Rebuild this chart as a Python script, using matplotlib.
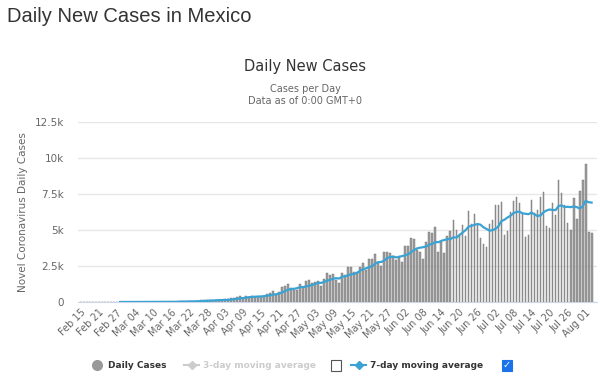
import matplotlib
matplotlib.use("Agg")
import matplotlib.pyplot as plt
from matplotlib.lines import Line2D
from matplotlib.patches import Rectangle
import numpy as np
import pandas as pd

# === Data: daily new cases, Feb 15 - Aug 03 ===
start_date = "2020-02-15"
daily_cases = [
    # Feb 15 - Feb 29
    0, 0, 0, 0, 0, 0, 0, 0, 0, 0, 0, 0, 0, 2, 2,
    # Mar
    1, 0, 0, 0, 0, 1, 1, 0, 0, 0, 1, 4, 14, 15, 12, 29, 11, 25, 46, 39,
    48, 65, 51, 38, 70, 110, 132, 131, 145, 101, 121,
    # Apr
    163, 132, 178, 202, 253, 296, 346, 396, 260, 403, 375, 442, 353, 385, 448,
    450, 578, 622, 764, 511, 729, 1043, 1089, 1239, 970, 835, 852, 1223, 1047, 1425,
    # May
    1515, 1349, 1383, 1434, 1120, 1609, 1982, 1906, 1938, 1562, 1305, 1997, 1862,
    2409, 2437, 2112, 2075, 2414, 2713, 2248, 2973, 2960, 3329, 2764, 2485, 3455,
    3463, 3377, 3227, 2885, 3152,
    # Jun
    2771, 3891, 3912, 4442, 4346, 3593, 3484, 2999, 4199, 4883, 4790, 5222, 3494,
    4147, 3427, 4599, 4930, 5662, 5030, 4717, 5343, 4577, 6288, 5437, 6104, 5441,
    4410, 4050, 3805, 5432,
    # Jul
    5681, 6741, 6740, 6914, 4683, 4902, 6258, 6995, 7280, 6891, 6094, 4482, 4685,
    7051, 6149, 6406, 7257, 7615, 5311, 5172, 6859, 6019, 8438, 7573, 6751, 5480,
    4973, 7208, 5752, 7730, 8458,
    # Aug
    9556, 4853, 4767,
]
dates = pd.date_range(start_date, periods=len(daily_cases), freq="D")
date_labels = [d.strftime("%b %d") for d in dates]

y_ticks = [0, 2500, 5000, 7500, 10000, 12500]
y_tick_labels = ["0", "2.5k", "5k", "7.5k", "10k", "12.5k"]

# 7-day moving average, shown from the first reported case on
series = pd.Series(daily_cases, dtype=float)
ma7 = series.rolling(7, min_periods=1).mean()
ma7[series.cumsum() == 0] = np.nan

# === Figure ===
fig = plt.figure(figsize=(6, 3.8), dpi=100)
ax = fig.add_axes([78 / 600, 1 - 302 / 380, (597 - 78) / 600, (302 - 122) / 380])

x = np.arange(len(daily_cases))
ax.bar(x, daily_cases, width=0.62, color="#9f9f9f", edgecolor="#6e6e6e", linewidth=0.3, zorder=2)
ax.plot(x, ma7, color="#3aa3d3", linewidth=1.6, zorder=3)

ax.set_xlim(-1, 171.8)
ax.set_ylim(0, 12500)
ax.set_yticks(y_ticks)
ax.set_yticklabels(y_tick_labels, fontsize=7.5, color="#666666")
ax.set_xticks(x[::6])
ax.set_xticklabels(date_labels[::6], rotation=45, ha="right", rotation_mode="anchor",
                   fontsize=7, color="#666666")
ax.tick_params(axis="y", length=0, pad=10)
ax.tick_params(axis="x", length=0, pad=4)
ax.grid(axis="y", color="#e6e6e6", linewidth=1, zorder=0)
ax.set_axisbelow(True)
for side in ["top", "right", "left"]:
    ax.spines[side].set_visible(False)
ax.spines["bottom"].set_color("#ccd6eb")
ax.set_ylabel("Novel Coronavirus Daily Cases", fontsize=7.5, color="#666666", labelpad=5)

# === Titles ===
fig.text(7 / 600, 1 - 17 / 380, "Daily New Cases in Mexico", family="Liberation Sans",
         fontsize=14.5, color="#333333", va="center", ha="left")
fig.text(305 / 600, 1 - 66 / 380, "Daily New Cases", fontsize=10.5, color="#333333",
         va="center", ha="center")
fig.text(305 / 600, 1 - 89 / 380, "Cases per Day", fontsize=7, color="#666666",
         va="center", ha="center")
fig.text(305 / 600, 1 - 101 / 380, "Data as of 0:00 GMT+0", fontsize=7, color="#666666",
         va="center", ha="center")

# === Legend (drawn by hand) ===
ly = 1 - 365 / 380
fig.add_artist(Line2D([97 / 600], [ly], marker="o", markersize=7, color="#999999",
                      transform=fig.transFigure))
fig.text(108 / 600, ly, "Daily Cases", fontsize=6.5, weight="bold", color="#333333",
         va="center", ha="left")

fig.add_artist(Line2D([184 / 600, 199 / 600], [ly, ly], color="#cccccc", linewidth=1.5,
                      transform=fig.transFigure))
fig.add_artist(Line2D([191.5 / 600], [ly], marker="D", markersize=4, color="#cccccc",
                      transform=fig.transFigure))
fig.text(203 / 600, ly, "3-day moving average", fontsize=6.5, weight="bold", color="#cccccc",
         va="center", ha="left")
fig.add_artist(Rectangle((331 / 600, ly - 5.5 / 380), 10 / 600, 11 / 380, facecolor="white",
                         edgecolor="#555555", linewidth=0.8, transform=fig.transFigure))

fig.add_artist(Line2D([351 / 600, 366 / 600], [ly, ly], color="#3aa3d3", linewidth=1.5,
                      transform=fig.transFigure))
fig.add_artist(Line2D([358.5 / 600], [ly], marker="D", markersize=4, color="#3aa3d3",
                      transform=fig.transFigure))
fig.text(370 / 600, ly, "7-day moving average", fontsize=6.5, weight="bold", color="#333333",
         va="center", ha="left")
fig.add_artist(Rectangle((502 / 600, ly - 5.5 / 380), 10 / 600, 11 / 380, facecolor="#1a73e8",
                         edgecolor="#1a73e8", linewidth=0.8, transform=fig.transFigure))
fig.text(507 / 600, ly, "\u2713", fontsize=7, color="white", weight="bold",
         va="center", ha="center")

fig.savefig("out.png", dpi=100)
